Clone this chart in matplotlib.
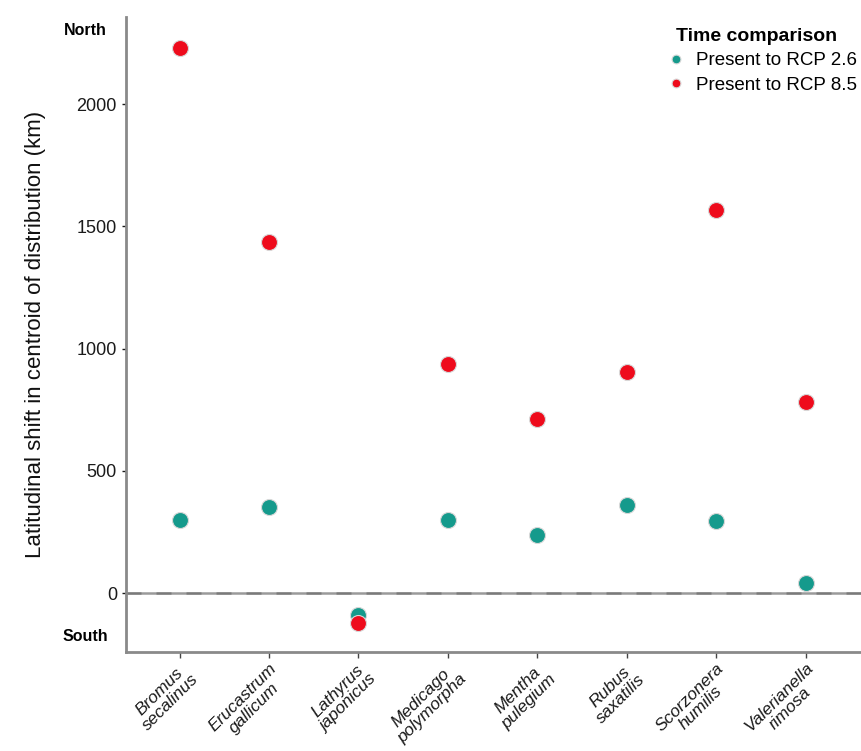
import matplotlib.pyplot as plt
import numpy as np

plt.rcParams["font.family"] = ["Liberation Sans", "DejaVu Sans"]

species = ["Bromus\nsecalinus", "Erucastrum\ngallicum", "Lathyrus\njaponicus",
           "Medicago\npolymorpha", "Mentha\npulegium", "Rubus\nsaxatilis",
           "Scorzonera\nhumilis", "Valerianella\nrimosa"]
shift_rcp26 = [299, 352, -90, 299, 237, 360, 294, 41]
shift_rcp85 = [2229, 1436, -123, 937, 712, 904, 1566, 781]

teal = "#159a8c"
red = "#ee0b1c"

fig = plt.figure(figsize=(8.61, 7.51), dpi=100)
ax = fig.add_axes([0.1463, 0.1318, 0.8537, 0.8456])

x = np.arange(1, len(species) + 1)
# zero reference line: grey base with darker dashes on top
ax.axhline(0, color="#9a9a9a", lw=1.8, zorder=1)
ax.axhline(0, color="#666666", lw=1.8, ls=(0, (6, 6)), alpha=0.6, zorder=1)
ax.plot(x, shift_rcp26, "o", ms=11.5, color=teal, mec="#d8d8d8", mew=0.8,
        label="Present to RCP 2.6", zorder=3)
ax.plot(x, shift_rcp85, "o", ms=11.5, color=red, mec="#d8d8d8", mew=0.8,
        label="Present to RCP 8.5", zorder=3)

ax.set_xlim(0.4, 8.62)
ax.set_ylim(-241, 2356)
ax.set_yticks([0, 500, 1000, 1500, 2000])
ax.set_xticks(x)
ax.set_xticklabels(species, rotation=45, ha="right", va="top",
                   rotation_mode="anchor", multialignment="center",
                   fontstyle="italic", fontsize=12.5, linespacing=1.05,
                   color="#1a1a1a")
ax.tick_params(axis="y", labelsize=13, colors="#1a1a1a", length=3, width=1)
ax.tick_params(axis="x", length=4, width=1, color="#444444", pad=2)

for side in ["top", "right"]:
    ax.spines[side].set_visible(False)
for side in ["left", "bottom"]:
    ax.spines[side].set_color("#8a8a8a")
    ax.spines[side].set_linewidth(2)

ax.set_ylabel("Latitudinal shift in centroid of distribution (km)",
              fontsize=16, color="#111111", labelpad=22)

ax.text(-0.055, 0.978, "North", transform=ax.transAxes, fontsize=11.5,
        fontweight="bold", ha="center", va="center")
ax.text(-0.055, 0.025, "South", transform=ax.transAxes, fontsize=11.5,
        fontweight="bold", ha="center", va="center")

leg = ax.legend(loc="upper left", bbox_to_anchor=(0.712, 0.995), frameon=False,
                title="Time comparison", fontsize=13.5, markerscale=0.55,
                handletextpad=0.1, labelspacing=0.4, borderaxespad=0)
leg.get_title().set_fontweight("bold")
leg.get_title().set_fontsize(14)

fig.savefig("out.png", dpi=100)
